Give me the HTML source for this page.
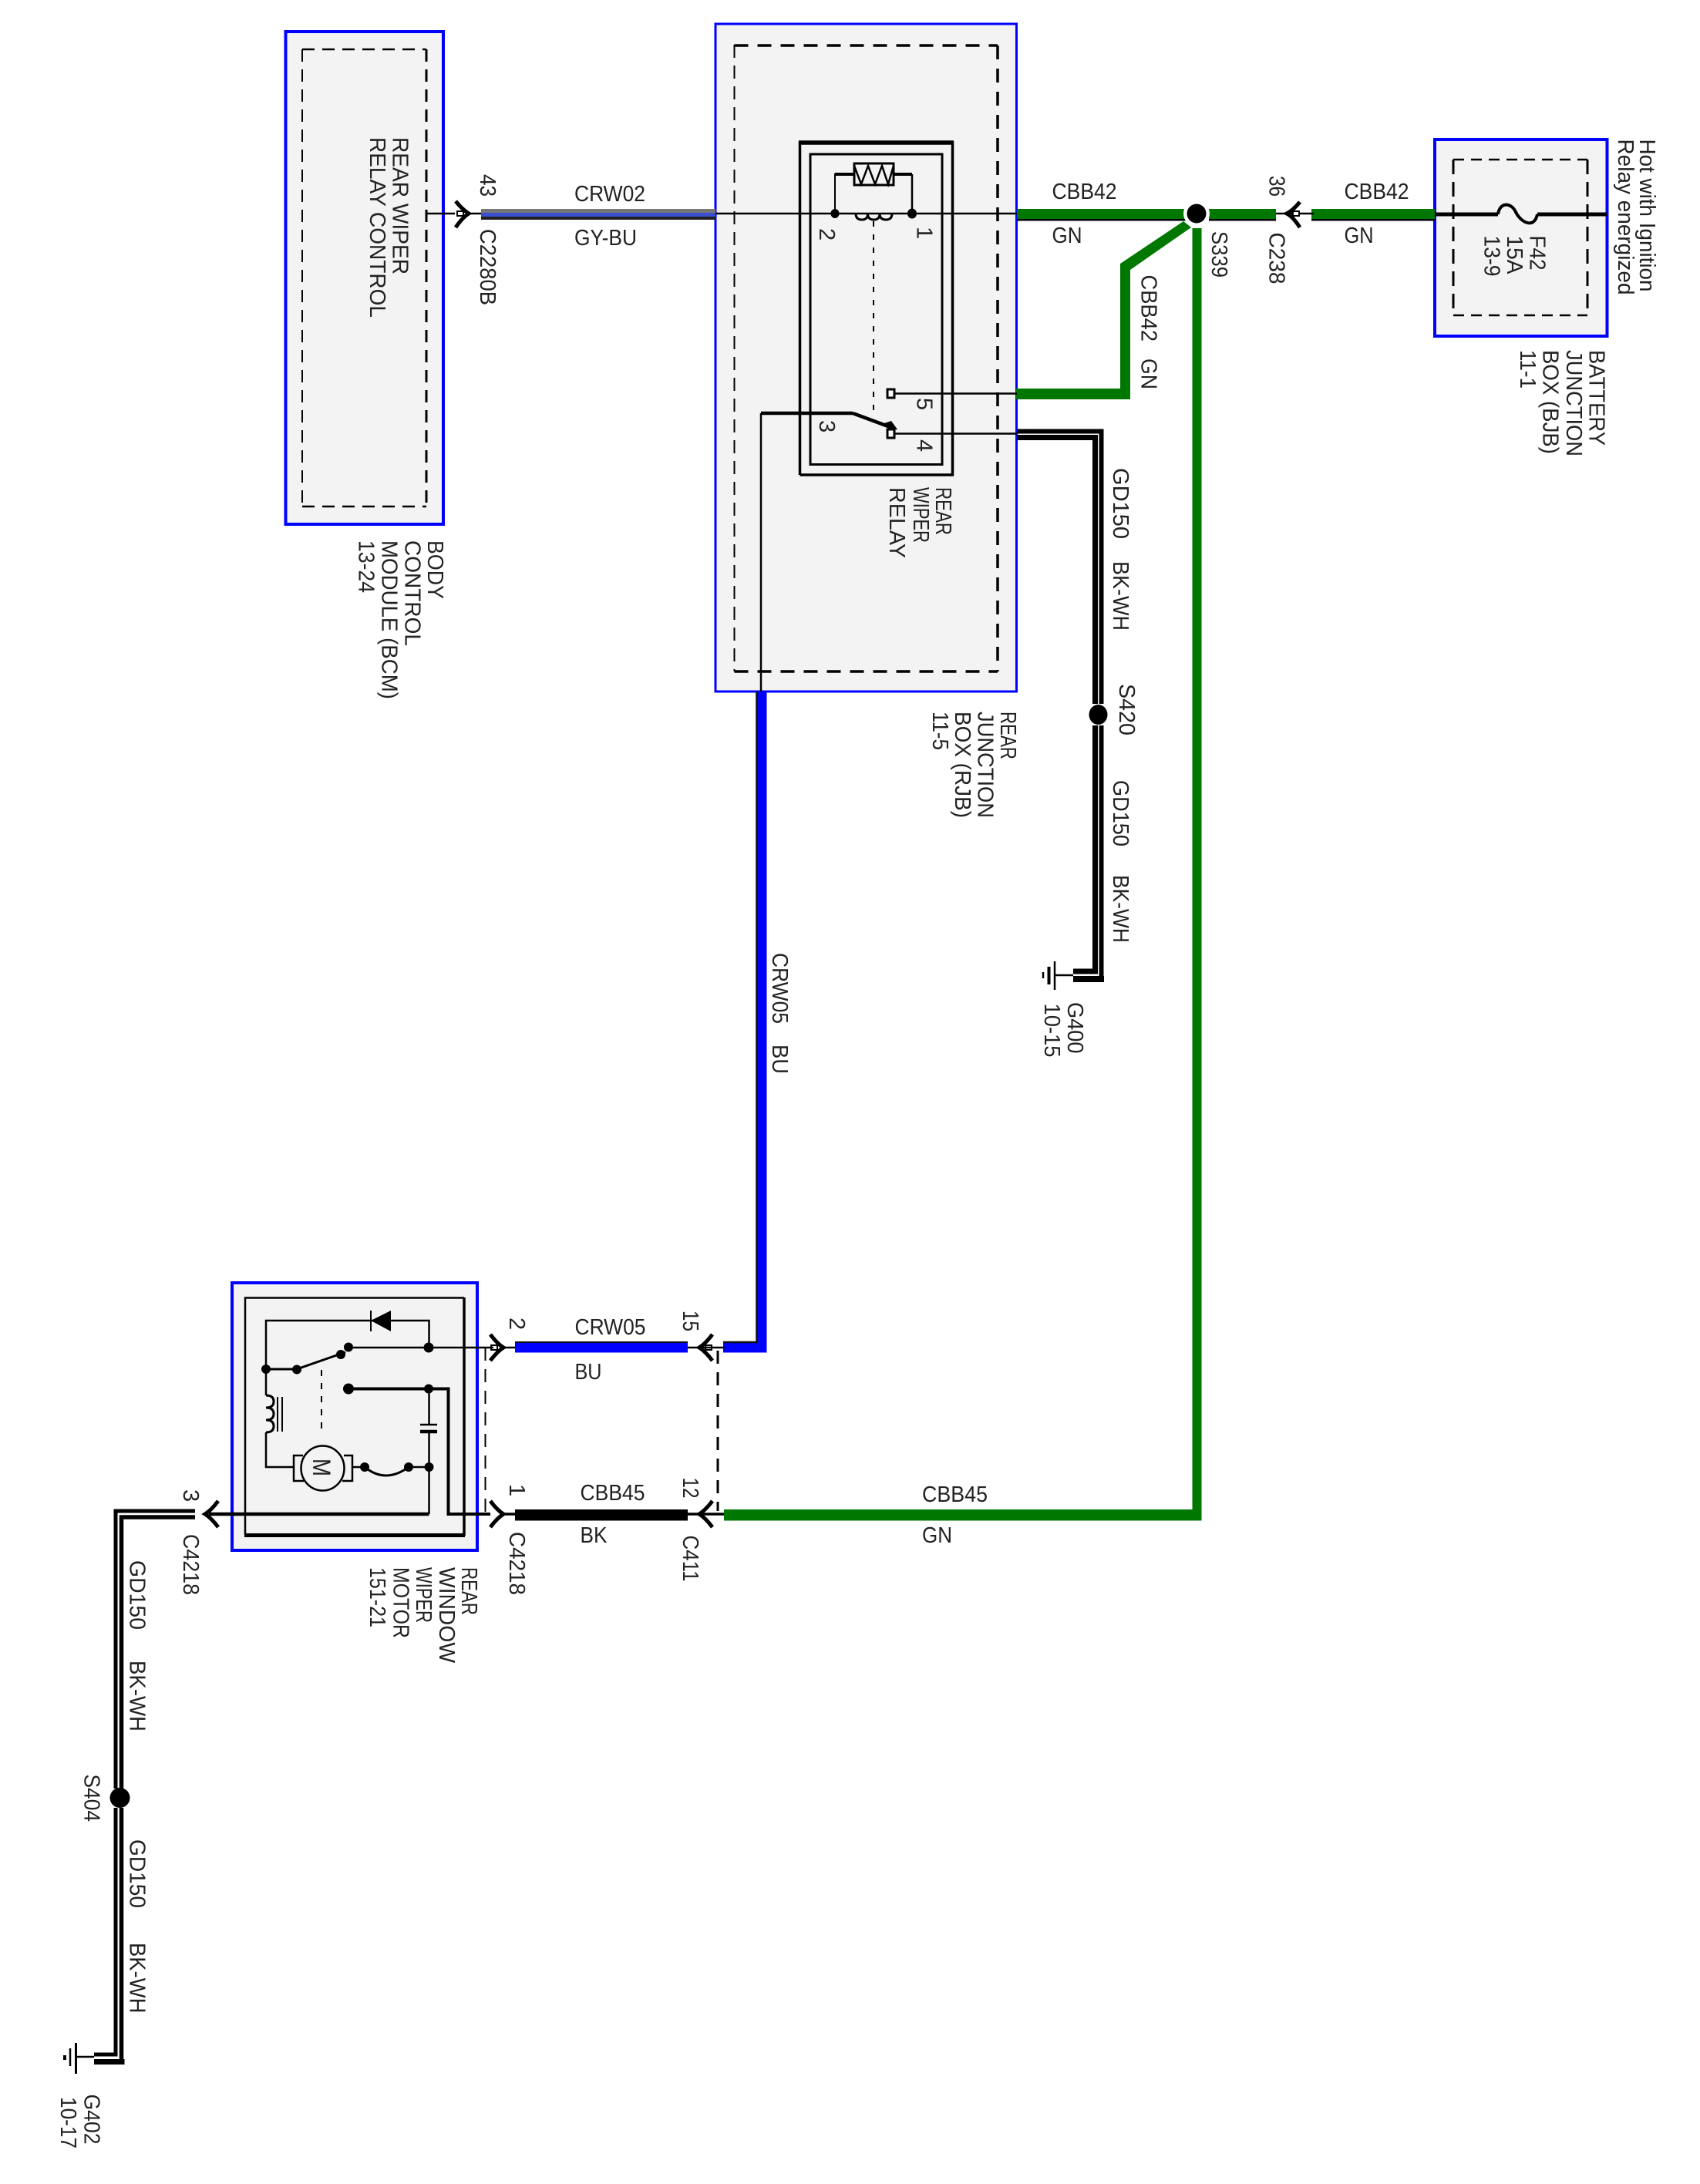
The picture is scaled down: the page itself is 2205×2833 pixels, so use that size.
<!DOCTYPE html>
<html><head><meta charset="utf-8"><style>
html,body{margin:0;padding:0;background:#fff}
svg{display:block}
text{font-family:"Liberation Sans",sans-serif;font-size:29px;fill:#222}
</style></head><body>
<svg width="2205" height="2833" viewBox="0 0 2205 2833" xmlns="http://www.w3.org/2000/svg">
<rect width="2205" height="2833" fill="#fff"/>
<!-- boxes -->
<g fill="#f3f3f3" stroke="#0000ff">
<rect x="370.5" y="41" width="204.5" height="639" stroke-width="4"/>
<rect x="928" y="31" width="390.5" height="866" stroke-width="3"/>
<rect x="1861" y="181" width="223.5" height="255" stroke-width="4"/>
<rect x="301" y="1664" width="318" height="347" stroke-width="4"/>
</g>
<!-- dashed inner -->
<g fill="none" stroke="#000">
<path d="M392 64V657" stroke-width="2" stroke-dasharray="16 10"/>
<path d="M392 64H553" stroke-width="2.5" stroke-dasharray="16 10"/>
<path d="M553 64V657" stroke-width="3" stroke-dasharray="16 10"/>
<path d="M392 657H553" stroke-width="2.5" stroke-dasharray="16 10"/>
<path d="M952.5 58V871" stroke-width="2" stroke-dasharray="17 10"/>
<path d="M952.5 59H1294" stroke-width="3.5" stroke-dasharray="18 12"/>
<path d="M1294 59V871" stroke-width="3.5" stroke-dasharray="18 12"/>
<path d="M952.5 871H1294" stroke-width="3.5" stroke-dasharray="18 12"/>
<path d="M1885 207V409" stroke-width="3" stroke-dasharray="19 10"/>
<path d="M1885 207H2059" stroke-width="2.5" stroke-dasharray="14 9"/>
<path d="M2059 207V409" stroke-width="3" stroke-dasharray="19 10"/>
<path d="M1885 409H2059" stroke-width="2.5" stroke-dasharray="14 9"/>
</g>
<!-- relay rects -->
<path d="M1037.5 616V185H1235.5V616H1037.5" fill="none" stroke="#000" stroke-width="3.5"/>
<path d="M1036 185H1237" stroke="#000" stroke-width="5.5"/>
<rect x="1051" y="200" width="171" height="402.5" fill="none" stroke="#000" stroke-width="3"/>
<!-- GY-BU wire -->
<rect x="624" y="271" width="304" height="5" fill="#777"/>
<rect x="624" y="276" width="304" height="5" fill="#3a50d0"/>
<rect x="624" y="281" width="304" height="4" fill="#222"/>
<!-- Green wires -->
<g fill="#007800">
<rect x="1319" y="271" width="231" height="13"/>
<rect x="1568" y="271" width="87" height="13"/>
<rect x="1701" y="271" width="160" height="13"/>
<path d="M1318 504H1453V342L1535 287L1545 295L1466 350V518H1318Z"/>
<rect x="1546.5" y="296" width="12" height="1676"/>
<rect x="939" y="1958" width="619.5" height="14.5"/>
</g>
<g fill="#000">
<rect x="1319" y="284" width="231" height="2.5"/>
<rect x="1568" y="284" width="87" height="2.5"/>
<rect x="1701" y="284" width="160" height="2.5"/>
</g>
<!-- Main thin lines -->
<g fill="none" stroke="#000">
<path d="M553 277H590M608 277H624" stroke-width="2.5"/>
<path d="M928 277H1319" stroke-width="2.5"/>
<path d="M1655 277H1704" stroke-width="2.5"/>
<path d="M1155 510.5H1319M1155 562.5H1319" stroke-width="2.5"/>
<path d="M1106 536H987" stroke-width="4.5"/>
<path d="M987 536V897" stroke-width="2.5"/>
<!-- switch -->
<path d="M1106 536L1160 556" stroke-width="4.5"/>
<path d="M1133 287V542" stroke-width="2" stroke-dasharray="7 10"/>
<!-- resistor -->
<rect x="1108" y="212" width="51" height="28" fill="#f3f3f3" stroke-width="3"/>
<path d="M1108 215L1117 239L1126 215L1135 239L1144 215L1152 239L1159 215" stroke-width="2.5"/>
<path d="M1083 277V226H1108" stroke-width="2"/>
<path d="M1083 226H1108M1159 226H1183" stroke-width="4"/>
<path d="M1183 226V277" stroke-width="2.5"/>
<!-- coil -->
<path d="M1110 277q0 8 8 8q7.5 0 7.5-8q0 8 8 8q7.500 0 7.500-8q0 8 8 8q8 0 8-8" stroke-width="3"/>
<!-- fuse line -->
<path d="M1861 278H1943M1994 278H2084" stroke-width="5"/>
<path d="M1943 278C1945 262 1960 262 1966 275S1990 298 1994 278" stroke-width="4"/>
</g>
<g fill="#000">
<ellipse cx="1083" cy="277" rx="5.5" ry="6"/>
<ellipse cx="1183" cy="277" rx="6" ry="6.5"/>
<rect x="1151" y="505" width="9" height="11" fill="#fff" stroke="#000" stroke-width="3"/>
<rect x="1151" y="557" width="9" height="11" fill="#fff" stroke="#000" stroke-width="3"/>
<path d="M1147 549L1156 546L1164 557L1156 558Z"/>
</g>
<!-- GD150 wire top -->
<g fill="none" stroke="#000">
<path d="M1319 559.5H1428.5V913M1428.5 941V1271H1392" stroke-width="6"/>
<path d="M1319 567.5H1420.5V913M1420.5 941V1260H1392" stroke-width="7"/>
<path d="M1392 1265H1368" stroke-width="2.5"/>
<path d="M1368 1247V1284" stroke-width="2.5"/>
<path d="M1360.5 1254V1277" stroke-width="4"/>
<path d="M1353 1261V1269" stroke-width="2.5"/>
</g>
<rect x="1392" y="1266" width="40" height="8" fill="#000"/>
<!-- Blue wire -->
<path d="M981.5 897V1740H938V1754.5H994.5V897Z" fill="#0000ff"/>
<path d="M981.5 897V1741H938" fill="none" stroke="#111" stroke-width="2.5"/>
<rect x="668" y="1740" width="224" height="14.5" fill="#0000ff"/>
<rect x="668" y="1740" width="224" height="2" fill="#111"/>
<rect x="668" y="1958" width="224" height="14.5" fill="#000"/>
<!-- junctions -->
<ellipse cx="1552" cy="277" rx="17" ry="17" fill="#fff"/>
<ellipse cx="1552" cy="277" rx="12.5" ry="12.5" fill="#000"/>
<ellipse cx="1424.5" cy="927" rx="12" ry="13" fill="#000"/>
<!-- Arrows -->
<g fill="none" stroke="#000" stroke-width="5">
<path d="M591 261Q600 272 608 277Q600 282 591 295"/>
<path d="M1686 262Q1677 273 1669 277Q1677 281 1686 295"/>
<path d="M636 1731Q645 1743 653 1748Q645 1753 636 1765"/>
<path d="M636 1947Q645 1959 653 1964Q645 1969 636 1981"/>
<path d="M924 1731Q915 1743 907 1748Q915 1753 924 1765"/>
<path d="M924 1947Q915 1959 907 1964Q915 1969 924 1981"/>
<path d="M283 1947Q274 1959 266 1964Q274 1969 283 1981"/>
</g>
<g fill="#fff" stroke="#000" stroke-width="2">
<rect x="593" y="274" width="8" height="6"/>
<rect x="1677" y="274" width="8" height="6"/>
<rect x="637" y="1745" width="8" height="6"/>
<rect x="915" y="1745" width="8" height="6"/>
</g>
<!-- connector lines -->
<g fill="none" stroke="#000">
<path d="M653 1748H668M892 1748H940" stroke-width="2.5"/>
<path d="M653 1964H668M892 1964H939" stroke-width="3.5"/>
<path d="M629.5 1748V1964" stroke-width="2" stroke-dasharray="17 11"/>
<path d="M931 1752V1960" stroke-width="3" stroke-dasharray="17 11"/>
<!-- motor internals -->
<path d="M602 1683.5H318V1991" stroke-width="2.5"/>
<path d="M602 1683V1992" stroke-width="3.5"/>
<path d="M317 1991.5H603" stroke-width="5"/>
<path d="M345 1810V1713H556.5V1748" stroke-width="2.5"/>
<path d="M345 1858V1903H381" stroke-width="2.5"/>
<path d="M345 1776H385L448 1754" stroke-width="3"/>
<path d="M451 1748H640" stroke-width="2.5"/>
<path d="M452 1801.5H581.5V1964H636" stroke-width="4"/>
<path d="M417 1777V1862" stroke-width="2" stroke-dasharray="8 9"/>
<path d="M556.5 1802V1848M556.5 1857V1964" stroke-width="2.5"/>
<path d="M545 1848H567" stroke-width="2.5"/>
<path d="M545 1857H567" stroke-width="4.5"/>
<path d="M271 1964H556.5" stroke-width="4.5"/>
<path d="M345 1810q10 0 10 8q0 8-10 8q10 0 10 8q0 8-10 8q10 0 10 8q0 8-10 8" stroke-width="3"/>
<path d="M360 1812V1857M366 1812V1857" stroke-width="2"/>
<path d="M393 1888H381V1921H394" stroke-width="2.5"/>
<path d="M446 1888H457V1921H444" stroke-width="2.5"/>
<ellipse cx="418.5" cy="1904.5" rx="28" ry="29" fill="#f3f3f3" stroke-width="2.5"/>
<path d="M457 1903H473" stroke-width="2.5"/>
<path d="M473 1903Q500 1925 530 1903" stroke-width="3"/>
<path d="M530 1903H556" stroke-width="2.5"/>
<!-- left wire -->
<path d="M253 1960H150V2320M150 2345V2665H122" stroke-width="5"/>
<path d="M253 1968H157.5V2320M157.5 2345V2674H122" stroke-width="5.5"/>
<path d="M122 2668H98" stroke-width="2.5"/>
<path d="M98.5 2650V2690" stroke-width="3"/>
<path d="M91 2657V2680" stroke-width="2.5"/>
<path d="M84 2666V2672" stroke-width="4"/>
</g>
<rect x="122" y="2671" width="39.5" height="7" fill="#000"/>
<ellipse cx="155.5" cy="2332" rx="13" ry="13" fill="#000"/>
<g fill="#000">
<circle cx="345" cy="1776" r="6"/>
<circle cx="385" cy="1776.5" r="6"/>
<circle cx="442" cy="1757" r="6"/>
<circle cx="452" cy="1747.5" r="6"/>
<circle cx="556" cy="1748" r="6.5"/>
<circle cx="452" cy="1801.5" r="7"/>
<circle cx="556" cy="1801.5" r="6"/>
<circle cx="473" cy="1903" r="6"/>
<circle cx="530" cy="1903" r="6"/>
<circle cx="556.5" cy="1903" r="6"/>
<path d="M481 1713L507 1700V1727Z"/>
</g>
<path d="M481 1700V1727" stroke="#000" stroke-width="2"/>
<!-- Horizontal text -->
<text x="745" y="261" textLength="92" lengthAdjust="spacingAndGlyphs">CRW02</text>
<text x="745" y="318" textLength="81" lengthAdjust="spacingAndGlyphs">GY-BU</text>
<text x="1364.5" y="258" textLength="84" lengthAdjust="spacingAndGlyphs">CBB42</text>
<text x="1364.5" y="315" textLength="39" lengthAdjust="spacingAndGlyphs">GN</text>
<text x="1743.5" y="258" textLength="84" lengthAdjust="spacingAndGlyphs">CBB42</text>
<text x="1743.5" y="315" textLength="38" lengthAdjust="spacingAndGlyphs">GN</text>
<text x="745.5" y="1731" textLength="92" lengthAdjust="spacingAndGlyphs">CRW05</text>
<text x="745.5" y="1789" textLength="35" lengthAdjust="spacingAndGlyphs">BU</text>
<text x="752.5" y="1946" textLength="84" lengthAdjust="spacingAndGlyphs">CBB45</text>
<text x="752.5" y="2001" textLength="35" lengthAdjust="spacingAndGlyphs">BK</text>
<text x="1196" y="1948" textLength="85" lengthAdjust="spacingAndGlyphs">CBB45</text>
<text x="1196" y="2001" textLength="39" lengthAdjust="spacingAndGlyphs">GN</text>
<!-- Rotated text -->
<text transform="translate(509.5,178) rotate(90)" textLength="178" lengthAdjust="spacingAndGlyphs">REAR WIPER</text>
<text transform="translate(480,178) rotate(90)" textLength="234" lengthAdjust="spacingAndGlyphs">RELAY CONTROL</text>
<text transform="translate(623,226) rotate(90)" textLength="29" lengthAdjust="spacingAndGlyphs">43</text>
<text transform="translate(623,297) rotate(90)" textLength="99" lengthAdjust="spacingAndGlyphs">C2280B</text>
<text transform="translate(555,701) rotate(90)" textLength="76" lengthAdjust="spacingAndGlyphs">BODY</text>
<text transform="translate(525.5,701) rotate(90)" textLength="137" lengthAdjust="spacingAndGlyphs">CONTROL</text>
<text transform="translate(495.5,701) rotate(90)" textLength="206" lengthAdjust="spacingAndGlyphs">MODULE (BCM)</text>
<text transform="translate(465.5,701) rotate(90)" textLength="68" lengthAdjust="spacingAndGlyphs">13-24</text>
<text transform="translate(1063,296) rotate(90)">2</text>
<text transform="translate(1189.5,294) rotate(90)">1</text>
<text transform="translate(1189.5,516) rotate(90)">5</text>
<text transform="translate(1063,545) rotate(90)">3</text>
<text transform="translate(1189.5,570) rotate(90)">4</text>
<text transform="translate(1480.5,356.5) rotate(90)" textLength="86.5" lengthAdjust="spacingAndGlyphs">CBB42</text>
<text transform="translate(1480.5,465) rotate(90)" textLength="40" lengthAdjust="spacingAndGlyphs">GN</text>
<text transform="translate(1984.5,305.5) rotate(90)" textLength="45" lengthAdjust="spacingAndGlyphs">F42</text>
<text transform="translate(1955,305.5) rotate(90)" textLength="50" lengthAdjust="spacingAndGlyphs">15A</text>
<text transform="translate(1925.5,305.5) rotate(90)" textLength="53" lengthAdjust="spacingAndGlyphs">13-9</text>
<text transform="translate(1646.5,228) rotate(90)" textLength="27" lengthAdjust="spacingAndGlyphs">36</text>
<text transform="translate(1646.5,301.5) rotate(90)" textLength="67" lengthAdjust="spacingAndGlyphs">C238</text>
<text transform="translate(1572,300) rotate(90)" textLength="60" lengthAdjust="spacingAndGlyphs">S339</text>
<text transform="translate(2127,180.5) rotate(90)" textLength="198" lengthAdjust="spacingAndGlyphs">Hot with Ignition</text>
<text transform="translate(2099,180.5) rotate(90)" textLength="202" lengthAdjust="spacingAndGlyphs">Relay energized</text>
<text transform="translate(2061.5,454) rotate(90)" textLength="124" lengthAdjust="spacingAndGlyphs">BATTERY</text>
<text transform="translate(2032,454) rotate(90)" textLength="138" lengthAdjust="spacingAndGlyphs">JUNCTION</text>
<text transform="translate(2001.5,454) rotate(90)" textLength="135" lengthAdjust="spacingAndGlyphs">BOX (BJB)</text>
<text transform="translate(1972,454) rotate(90)" textLength="50" lengthAdjust="spacingAndGlyphs">11-1</text>
<text transform="translate(1298,923) rotate(90)" textLength="62" lengthAdjust="spacingAndGlyphs">REAR</text>
<text transform="translate(1268.5,923) rotate(90)" textLength="138" lengthAdjust="spacingAndGlyphs">JUNCTION</text>
<text transform="translate(1239,923) rotate(90)" textLength="138" lengthAdjust="spacingAndGlyphs">BOX (RJB)</text>
<text transform="translate(1210,923) rotate(90)" textLength="50" lengthAdjust="spacingAndGlyphs">11-5</text>
<text transform="translate(1214,632) rotate(90)" textLength="62" lengthAdjust="spacingAndGlyphs">REAR</text>
<text transform="translate(1185,632) rotate(90)" textLength="72" lengthAdjust="spacingAndGlyphs">WIPER</text>
<text transform="translate(1154,632) rotate(90)" textLength="92" lengthAdjust="spacingAndGlyphs">RELAY</text>
<text transform="translate(1444,607) rotate(90)" textLength="92" lengthAdjust="spacingAndGlyphs">GD150</text>
<text transform="translate(1444,728) rotate(90)" textLength="90" lengthAdjust="spacingAndGlyphs">BK-WH</text>
<text transform="translate(1444,1012) rotate(90)" textLength="86" lengthAdjust="spacingAndGlyphs">GD150</text>
<text transform="translate(1444,1135) rotate(90)" textLength="88" lengthAdjust="spacingAndGlyphs">BK-WH</text>
<text transform="translate(1452,887) rotate(90)" textLength="67" lengthAdjust="spacingAndGlyphs">S420</text>
<text transform="translate(1385,1300) rotate(90)" textLength="66.5" lengthAdjust="spacingAndGlyphs">G400</text>
<text transform="translate(1355,1301.5) rotate(90)" textLength="70" lengthAdjust="spacingAndGlyphs">10-15</text>
<text transform="translate(1002,1236) rotate(90)" textLength="92" lengthAdjust="spacingAndGlyphs">CRW05</text>
<text transform="translate(1002,1355) rotate(90)" textLength="38" lengthAdjust="spacingAndGlyphs">BU</text>
<text transform="translate(661,1709) rotate(90)">2</text>
<text transform="translate(886,1700) rotate(90)" textLength="27" lengthAdjust="spacingAndGlyphs">15</text>
<text transform="translate(661,1925) rotate(90)">1</text>
<text transform="translate(886,1916.5) rotate(90)" textLength="27" lengthAdjust="spacingAndGlyphs">12</text>
<text transform="translate(661,1987) rotate(90)" textLength="82" lengthAdjust="spacingAndGlyphs">C4218</text>
<text transform="translate(886,1991.5) rotate(90)" textLength="60" lengthAdjust="spacingAndGlyphs">C411</text>
<text transform="translate(238,1932) rotate(90)">3</text>
<text transform="translate(238,1990) rotate(90)" textLength="79" lengthAdjust="spacingAndGlyphs">C4218</text>
<text transform="translate(599,2033) rotate(90)" textLength="62" lengthAdjust="spacingAndGlyphs">REAR</text>
<text transform="translate(570,2033) rotate(90)" textLength="124" lengthAdjust="spacingAndGlyphs">WINDOW</text>
<text transform="translate(540,2033) rotate(90)" textLength="72" lengthAdjust="spacingAndGlyphs">WIPER</text>
<text transform="translate(510.5,2033) rotate(90)" textLength="92" lengthAdjust="spacingAndGlyphs">MOTOR</text>
<text transform="translate(480,2033) rotate(90)" textLength="78" lengthAdjust="spacingAndGlyphs">151-21</text>
<text transform="translate(168.5,2024) rotate(90)" textLength="90" lengthAdjust="spacingAndGlyphs">GD150</text>
<text transform="translate(168.5,2154) rotate(90)" textLength="92" lengthAdjust="spacingAndGlyphs">BK-WH</text>
<text transform="translate(109.5,2301.5) rotate(90)" textLength="61.5" lengthAdjust="spacingAndGlyphs">S404</text>
<text transform="translate(168.5,2386) rotate(90)" textLength="89" lengthAdjust="spacingAndGlyphs">GD150</text>
<text transform="translate(168.5,2520) rotate(90)" textLength="91.5" lengthAdjust="spacingAndGlyphs">BK-WH</text>
<text transform="translate(109.5,2716.5) rotate(90)" textLength="65" lengthAdjust="spacingAndGlyphs">G402</text>
<text transform="translate(79,2720) rotate(90)" textLength="67" lengthAdjust="spacingAndGlyphs">10-17</text>
<text transform="translate(406,1892) rotate(90)" textLength="23" lengthAdjust="spacingAndGlyphs" style="font-size:32px">M</text>
</svg>
</body></html>
